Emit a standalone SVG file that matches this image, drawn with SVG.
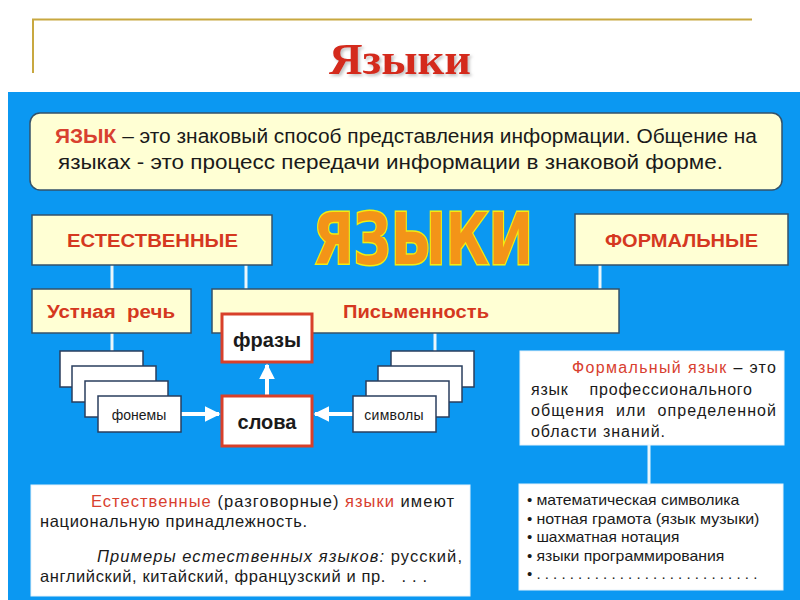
<svg xmlns="http://www.w3.org/2000/svg" width="800" height="600" viewBox="0 0 800 600">
<defs>
<style>
.t{font-family:"Liberation Sans",Arial,sans-serif}
.yb{fill:#FFFFD4;stroke:#34526A;stroke-width:1.5}
.wb{fill:#FFFFFF;stroke:#2A3E5E;stroke-width:1.5}
.rb{fill:#FFFFFF;stroke:#D8402A;stroke-width:3}
.tb{fill:#FFFFFF;stroke:#E6F2FA;stroke-width:1}
.hd{font-family:"Liberation Sans",Arial,sans-serif;font-weight:bold;font-size:18px;fill:#D5381F}
.red{fill:#D8402F}
.blk{fill:#1A1A1A}
.ln{stroke:#EAF6FB;stroke-width:3;fill:none}
.ar{stroke:#FFFFFF;stroke-width:4;fill:none}
</style>
<marker id="ah" viewBox="0 0 10 10" refX="9" refY="5" markerWidth="4" markerHeight="4" orient="auto" markerUnits="strokeWidth">
<path d="M0,0 L10,5 L0,10 z" fill="#FFFFFF"/>
</marker>
<filter id="sh" x="-10%" y="-20%" width="120%" height="150%">
<feDropShadow dx="2" dy="2" stdDeviation="1.5" flood-color="#999999" flood-opacity="0.6"/>
</filter>
</defs>
<rect width="800" height="600" fill="#FFFFFF"/>
<path d="M33,73 V19.5 H752" stroke="#C8A840" stroke-width="2" fill="none"/>
<text x="400" y="74" text-anchor="middle" font-family="Liberation Serif,serif" font-weight="bold" font-size="44" fill="#D42A1C" textLength="142" lengthAdjust="spacingAndGlyphs" filter="url(#sh)">Языки</text>
<rect x="8" y="92" width="792" height="508" fill="#0B98F2"/>

<g id="connectors">
<line class="ln" x1="112" y1="265" x2="112" y2="289"/>
<line class="ln" x1="246" y1="265" x2="246" y2="289"/>
<line class="ln" x1="600" y1="265" x2="600" y2="289"/>
<line class="ln" x1="112" y1="333" x2="112" y2="351"/>
<line class="ln" x1="435" y1="333" x2="435" y2="351"/>
<line class="ln" x1="649" y1="445" x2="649" y2="484"/>
<line class="ar" x1="181" y1="414" x2="219" y2="414" marker-end="url(#ah)"/>
<line class="ar" x1="353" y1="414" x2="315" y2="414" marker-end="url(#ah)"/>
<line class="ar" x1="267" y1="396" x2="267" y2="365" marker-end="url(#ah)"/>
</g>

<g id="definition">
<rect class="yb" x="30" y="113" width="752" height="77" rx="10"/>
<text class="t" font-size="20" y="143" x="55" textLength="702" lengthAdjust="spacingAndGlyphs"><tspan class="red" font-weight="bold">ЯЗЫК</tspan><tspan class="blk"> – это знаковый способ  представления  информации. Общение  на</tspan></text>
<text class="t blk" font-size="20" y="169" x="58" textLength="665" lengthAdjust="spacingAndGlyphs">языках  - это  процесс  передачи  информации  в  знаковой  форме.</text>
</g>

<g id="natural">
<rect class="yb" x="32" y="215" width="240" height="50"/>
<text class="hd" x="67" y="247" textLength="171" lengthAdjust="spacingAndGlyphs">ЕСТЕСТВЕННЫЕ</text>
</g>

<g id="title-big">
<text x="313" y="264" font-family="DejaVu Sans,sans-serif" font-weight="bold" font-size="72" fill="#F39418" stroke="#F2EE10" stroke-width="3" paint-order="stroke" textLength="220" lengthAdjust="spacingAndGlyphs">ЯЗЫКИ</text>
</g>

<g id="formal">
<rect class="yb" x="575" y="214" width="213" height="51"/>
<text class="hd" x="605" y="247" textLength="153" lengthAdjust="spacingAndGlyphs">ФОРМАЛЬНЫЕ</text>
</g>

<g id="oral">
<rect class="yb" x="32" y="289" width="159" height="44"/>
<text class="hd" x="47" y="318" textLength="128" lengthAdjust="spacingAndGlyphs" xml:space="preserve">Устная  речь</text>
</g>

<g id="written">
<rect class="yb" x="212" y="289" width="407" height="44"/>
<text class="hd" x="343" y="318" textLength="146" lengthAdjust="spacingAndGlyphs">Письменность</text>
</g>

<g id="phonemes">
<rect class="wb" x="60" y="351" width="83" height="36"/>
<rect class="wb" x="72" y="366" width="84" height="36"/>
<rect class="wb" x="85" y="381" width="83" height="36"/>
<rect class="wb" x="98" y="396" width="83" height="36"/>
<text class="t blk" x="139" y="420" font-size="14" text-anchor="middle">фонемы</text>
</g>

<g id="symbols">
<rect class="wb" x="391" y="351" width="83" height="36"/>
<rect class="wb" x="378" y="366" width="84" height="36"/>
<rect class="wb" x="366" y="381" width="83" height="36"/>
<rect class="wb" x="353" y="396" width="83" height="36"/>
<text class="t blk" x="394" y="420" font-size="14" text-anchor="middle" letter-spacing="0.3">символы</text>
</g>

<g id="phrases">
<rect class="rb" x="222" y="314" width="90" height="48"/>
<text class="t blk" x="267" y="347" font-size="20" font-weight="bold" text-anchor="middle">фразы</text>
</g>

<g id="words">
<rect class="rb" x="222" y="396" width="90" height="50"/>
<text class="t blk" x="267" y="429" font-size="20" font-weight="bold" text-anchor="middle">слова</text>
</g>

<g id="formal-def">
<rect class="tb" x="520" y="351" width="264" height="94"/>
<g class="t" font-size="16">
<text x="572" y="373" textLength="204" lengthAdjust="spacing"><tspan class="red">Формальный язык</tspan><tspan class="blk"> – это</tspan></text>
<text class="blk" x="531" y="395" textLength="221" lengthAdjust="spacing" xml:space="preserve">язык    профессионального</text>
<text class="blk" x="531" y="416" textLength="245" lengthAdjust="spacing" xml:space="preserve">общения  или  определенной</text>
<text class="blk" x="531" y="437" textLength="134" lengthAdjust="spacing">области знаний.</text>
</g>
</g>

<g id="formal-list">
<rect class="tb" x="519" y="484" width="264" height="106"/>
<g class="t blk" font-size="15">
<text x="527" y="505">• <tspan textLength="203" lengthAdjust="spacingAndGlyphs">математическая символика</tspan></text>
<text x="527" y="524">• <tspan textLength="223" lengthAdjust="spacingAndGlyphs">нотная грамота  (язык музыки)</tspan></text>
<text x="527" y="542">• <tspan textLength="143" lengthAdjust="spacingAndGlyphs">шахматная нотация</tspan></text>
<text x="527" y="561">• <tspan textLength="188" lengthAdjust="spacingAndGlyphs">языки программирования</tspan></text>
<text x="527" y="579" xml:space="preserve">• . . . . . . . . . . . . . . . . . . . . . . . . . . .</text>
</g>
</g>

<g id="natural-def">
<rect class="tb" x="31" y="485" width="439" height="111"/>
<g class="t" font-size="16.5">
<text x="91" y="507" textLength="363" lengthAdjust="spacing"><tspan class="red">Естественные</tspan><tspan class="blk"> (разговорные) </tspan><tspan class="red">языки</tspan><tspan class="blk"> имеют</tspan></text>
<text class="blk" x="40" y="527" textLength="267" lengthAdjust="spacing">национальную принадлежность.</text>
<text x="97" y="562" textLength="365" lengthAdjust="spacing"><tspan class="blk" font-style="italic">Примеры естественных языков:</tspan><tspan class="blk"> русский,</tspan></text>
<text class="blk" x="40" y="582" textLength="387" lengthAdjust="spacing" xml:space="preserve">английский, китайский, французский и пр.   . . .</text>
</g>
</g>
</svg>
